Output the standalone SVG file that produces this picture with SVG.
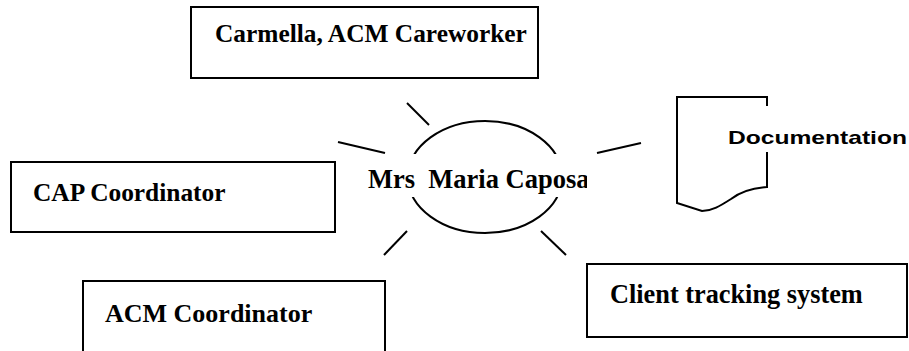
<svg xmlns="http://www.w3.org/2000/svg" width="909" height="351" viewBox="0 0 909 351">
  <defs>
    <style>
      .box { fill: #ffffff; stroke: #000000; stroke-width: 2; }
      .ray { stroke: #000000; stroke-width: 2; fill: none; }
      .lbl { font-family: "Liberation Serif", "Times New Roman", serif; font-weight: bold; font-size: 25.4px; fill: #000000; }
      .doc { font-family: "Liberation Sans", Arial, sans-serif; font-weight: bold; font-size: 19px; fill: #000000; }
    </style>
    <clipPath id="clipCenter">
      <rect x="360" y="150" width="227" height="50"/>
    </clipPath>
  </defs>
  <rect x="0" y="0" width="909" height="351" fill="#ffffff"/>

  <g id="connectors">
    <line class="ray" x1="407" y1="103" x2="429" y2="125"/>
    <line class="ray" x1="338" y1="142" x2="385" y2="153"/>
    <line class="ray" x1="597" y1="153" x2="641" y2="143"/>
    <line class="ray" x1="407" y1="231" x2="384" y2="255"/>
    <line class="ray" x1="541" y1="231" x2="566" y2="255"/>
  </g>

  <g id="carmella">
    <rect class="box" x="191" y="7" width="347" height="71"/>
    <text class="lbl" x="215" y="42">Carmella, ACM Careworker</text>
  </g>

  <g id="cap-coordinator">
    <rect class="box" x="11" y="162" width="324" height="70"/>
    <text class="lbl" x="33" y="201">CAP Coordinator</text>
  </g>

  <g id="acm-coordinator">
    <rect class="box" x="83" y="281" width="302" height="90"/>
    <text class="lbl" x="105" y="322" style="font-size:26px">ACM Coordinator</text>
  </g>

  <g id="client-tracking">
    <rect class="box" x="587" y="264" width="320" height="73"/>
    <text class="lbl" x="610" y="303" style="font-size:26.3px">Client tracking system</text>
  </g>

  <g id="documentation">
    <path class="box" d="M677,97 L767,97 L767,187 C752,188 740,192 731,199 C720,206 712,211 702,211 L677,203 Z"/>
    <rect x="722" y="106" width="187" height="46" fill="#ffffff"/>
    <text class="doc" x="728" y="144" textLength="179" lengthAdjust="spacingAndGlyphs">Documentation</text>
  </g>

  <g id="maria-caposa">
    <ellipse class="box" cx="485" cy="177" rx="77" ry="56"/>
    <rect x="360" y="154" width="227" height="43" fill="#ffffff"/>
    <text class="lbl" x="368" y="188" style="font-size:26.5px" clip-path="url(#clipCenter)" xml:space="preserve">Mrs  Maria Caposa</text>
  </g>
</svg>
